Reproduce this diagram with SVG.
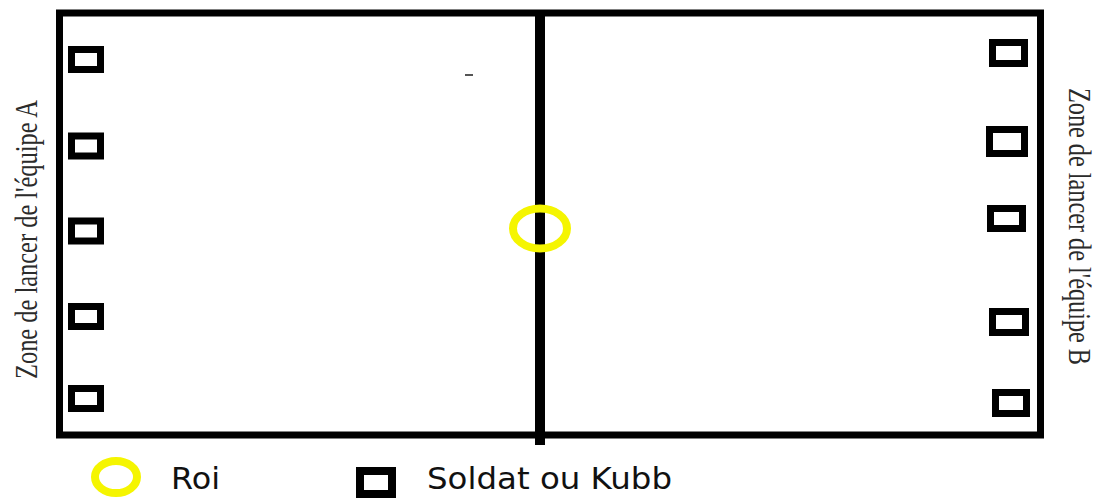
<svg xmlns="http://www.w3.org/2000/svg" width="1096" height="499" viewBox="0 0 1096 499">
<style>
.court{fill:none;stroke:#000;stroke-width:7}
.kubb{fill:#fff;stroke:#000;stroke-width:7}
.roi{fill:none;stroke:#f5f500;stroke-width:8}
.zone{font-family:"Liberation Serif","Times New Roman",serif;font-size:24px;fill:#2b2b2b}
.leg{font-family:"DejaVu Sans","Liberation Sans",sans-serif;font-size:30px;fill:#111}
</style>
<rect width="1096" height="499" fill="#fff"/>
<g id="court">
<rect class="court" x="59.5" y="13" width="981" height="422"/>
</g>
<g id="connectors">
<line x1="540" y1="11" x2="540" y2="445" stroke="#000" stroke-width="10"/>
</g>
<g id="mark">
<line x1="465" y1="75" x2="473" y2="75" stroke="#555" stroke-width="2"/>
</g>
<g id="roi">
<ellipse class="roi" cx="540" cy="228.5" rx="27" ry="20"/>
</g>
<g id="kubbs-A">
<rect class="kubb" x="71.5" y="49.5" width="29" height="20"/>
<rect class="kubb" x="71.5" y="136" width="29" height="20"/>
<rect class="kubb" x="71.5" y="221" width="29" height="20"/>
<rect class="kubb" x="71.5" y="306.5" width="29" height="20"/>
<rect class="kubb" x="71.5" y="388.5" width="29" height="20"/>
</g>
<g id="kubbs-B">
<rect class="kubb" x="992.5" y="42.5" width="32" height="21"/>
<rect class="kubb" x="989.5" y="129.5" width="35" height="24"/>
<rect class="kubb" x="990.5" y="208.5" width="32" height="20"/>
<rect class="kubb" x="992.5" y="311.5" width="33" height="21"/>
<rect class="kubb" x="995.5" y="392.5" width="31" height="21"/>
</g>
<g id="label-A">
<text class="zone" transform="translate(37,379) rotate(-90) scale(1,1.3)" textLength="279" lengthAdjust="spacingAndGlyphs">Zone de lancer de l'équipe A</text>
</g>
<g id="label-B">
<text class="zone" transform="translate(1069,88) rotate(90) scale(1,1.3)" textLength="277" lengthAdjust="spacingAndGlyphs">Zone de lancer de l'équipe B</text>
</g>
<g id="legend-roi">
<ellipse class="roi" cx="116" cy="477" rx="21" ry="16" stroke-width="9"/>
<text class="leg" x="171" y="489" textLength="49" lengthAdjust="spacingAndGlyphs">Roi</text>
</g>
<g id="legend-kubb">
<rect x="360" y="471" width="32" height="23" fill="#fff" stroke="#000" stroke-width="8"/>
<text class="leg" x="427" y="489" textLength="245" lengthAdjust="spacingAndGlyphs">Soldat ou Kubb</text>
</g>
</svg>
